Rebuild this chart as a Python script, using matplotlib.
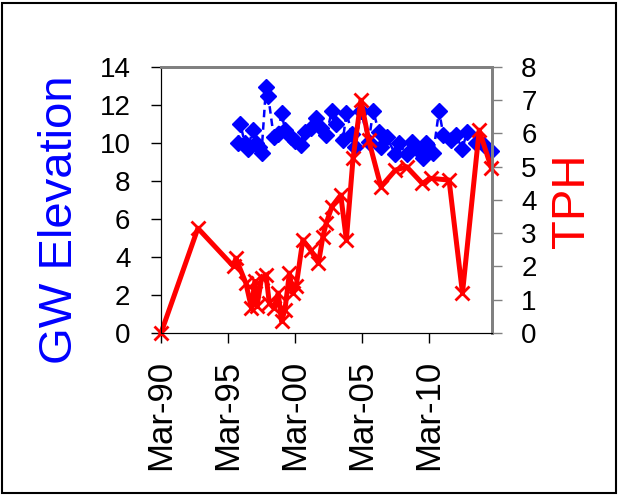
import numpy as np
import pandas as pd
import matplotlib
matplotlib.use('Agg')
import matplotlib.pyplot as plt
import matplotlib.dates as mdates
from matplotlib.patches import Rectangle

plt.rcParams['font.family'] = ['Liberation Sans', 'DejaVu Sans']

# Groundwater elevation (left axis)
gw_dates = ['1995-12', '1996-02', '1996-06', '1996-09', '1997-01', '1997-04',
            '1997-07', '1997-09', '1998-01', '1998-03', '1998-08', '1998-12',
            '1999-03', '1999-06', '1999-11', '2000-03', '2000-08', '2000-12',
            '2001-05', '2001-10', '2002-02', '2002-07', '2002-12', '2003-04',
            '2003-10', '2004-01', '2004-06', '2004-09', '2005-02', '2005-09',
            '2006-01', '2006-06', '2006-08', '2007-01', '2007-09', '2007-12',
            '2008-07', '2008-12', '2009-06', '2009-10', '2009-12', '2010-07',
            '2010-12', '2011-04', '2011-11', '2012-03', '2012-09', '2013-01',
            '2013-09', '2014-04', '2014-11']
gw_elev = [10.0, 11.0, 10.0, 9.7, 10.7, 10.0,
           9.8, 9.5, 12.95, 12.5, 10.3, 10.5,
           11.6, 10.7, 10.3, 10.1, 9.9, 10.6,
           10.8, 11.3, 10.8, 10.4, 11.7, 11.0,
           10.15, 11.6, 10.5, 9.8, 11.7, 10.05,
           11.7, 10.6, 9.8, 10.3, 9.4, 10.0,
           9.4, 10.05, 9.6, 9.2, 10.0, 9.5,
           11.7, 10.4, 10.15, 10.4, 9.7, 10.6,
           10.0, 9.9, 9.6]

# TPH (right axis)
tph_dates = ['1990-03', '1992-12', '1995-08', '1995-10', '1996-07', '1996-12',
             '1997-03', '1997-05', '1997-09', '1998-01', '1998-04', '1998-08',
             '1998-12', '1999-03', '1999-06', '1999-10', '2000-01', '2000-04',
             '2000-10', '2001-05', '2001-12', '2002-04', '2002-07', '2002-12',
             '2003-08', '2004-01', '2004-07', '2005-02', '2005-09', '2006-08',
             '2007-09', '2008-07', '2009-09', '2010-05', '2011-09', '2012-09',
             '2013-12', '2014-11']
tph = [0.0, 3.15, 2.0, 2.25, 1.5, 0.75,
       1.55, 0.8, 1.65, 1.75, 0.9, 0.75,
       1.2, 0.35, 0.7, 1.8, 1.2, 1.4,
       2.8, 2.5, 2.1, 2.9, 3.3, 3.8,
       4.15, 2.8, 5.25, 7.0, 5.8, 4.4,
       4.9, 5.0, 4.5, 4.65, 4.6, 1.2,
       6.1, 4.95]

x_ticks = ['1990-03-01', '1995-03-01', '2000-03-01', '2005-03-01', '2010-03-01']

gw_t = pd.to_datetime(gw_dates)
tph_t = pd.to_datetime(tph_dates)

fig = plt.figure(figsize=(6.23, 4.97), dpi=100)
ax = fig.add_axes([161/623, 1-333/497, (492-161)/623, (333-67)/497])
ax2 = ax.twinx()

ax.plot(gw_t, gw_elev, color='#0000ff', marker='D', markersize=8,
        linestyle=(0, (3, 2)), linewidth=1.8, clip_on=False)
ax2.plot(tph_t, tph, color='#ff0000', marker='x', markersize=10,
         markeredgewidth=2, linewidth=3.6, clip_on=False)

ax.set_xlim(pd.Timestamp('1990-03-01'), pd.Timestamp('2014-11-15'))
ax.set_ylim(0, 14)
ax2.set_ylim(0, 8)
ax.set_yticks(range(0, 15, 2))
ax2.set_yticks(range(0, 9))

ax.set_xticks(pd.to_datetime(x_ticks))
ax.xaxis.set_major_formatter(mdates.DateFormatter('%b-%y'))

ax.tick_params(axis='x', labelsize=25, rotation=90, direction='out', length=7,
               width=1, pad=12)
ax.tick_params(axis='y', labelsize=20, direction='out', length=7, width=1, pad=15)
ax2.tick_params(axis='y', labelsize=20, direction='out', length=7, width=1,
                pad=14, color='#808080')

for a in (ax, ax2):
    a.spines['left'].set_color('black')
    a.spines['bottom'].set_color('black')
    a.spines['right'].set_color('#808080')
    a.spines['top'].set_color('#808080')
    a.spines['right'].set_linewidth(2)
    a.spines['top'].set_linewidth(2)

fig.text(60/623, 1-220/497, 'GW Elevation', color='#0000ff', fontsize=34,
         rotation=90, ha='center', va='center')
fig.text(572/623, 1-201/497, 'TPH', color='#ff0000', fontsize=34,
         rotation=90, ha='center', va='center')

# outer frame
fig.patches.append(Rectangle((2/623, 1-493/497), 614/623, 490/497,
                             transform=fig.transFigure, fill=False,
                             edgecolor='black', linewidth=1.5))

fig.savefig('out.png', dpi=100)
